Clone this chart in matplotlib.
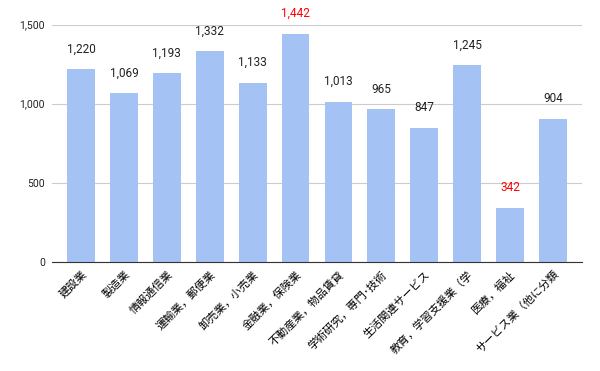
import matplotlib.pyplot as plt
import numpy as np

plt.rcParams['font.family'] = ['Roboto', 'Noto Sans CJK JP', 'DejaVu Sans']

# datos
categorias = ['建設業', '製造業', '情報通信業', '運輸業，郵便業', '卸売業，小売業',
              '金融業，保険業', '不動産業，物品賃貸', '学術研究，専門･技術',
              '生活関連サービス', '教育，学習支援業（学', '医療，福祉', 'サービス業（他に分類']
valores = [1220, 1069, 1193, 1332, 1133, 1442, 1013, 965, 847, 1245, 342, 904]
destacados = [5, 10]  # etiquetas en rojo

fig = plt.figure(figsize=(6, 3.71), dpi=100)
ax = fig.add_axes([52 / 600, 1 - 262 / 371, 530 / 600, (262 - 24.5) / 371])

x = np.arange(len(valores))
ax.bar(x, valores, width=0.65, color='#a4c2f4', zorder=2)

for i, v in enumerate(valores):
    color = '#ff0000' if i in destacados else '#222222'
    ax.text(i, v + 85, f'{v:,}', ha='center', va='bottom', fontsize=8.5,
            color=color, clip_on=False)

ax.set_xlim(-0.68, len(valores) - 0.32)
ax.set_ylim(0, 1500)
ax.set_yticks([0, 500, 1000, 1500])
ax.set_yticklabels(['0', '500', '1,000', '1,500'], fontsize=7.5, color='#222222')
ax.set_xticks(x)
ax.set_xticklabels(categorias, rotation=45, ha='right', rotation_mode='anchor',
                   fontsize=8, family=['Noto Sans CJK JP', 'DejaVu Sans'])
ax.tick_params(length=0, pad=5)
ax.grid(axis='y', color='#cccccc', linewidth=0.8, zorder=0)
for s in ['top', 'right', 'left']:
    ax.spines[s].set_visible(False)
ax.spines['bottom'].set_color('#333333')
ax.spines['bottom'].set_zorder(3)

fig.savefig('out.png', dpi=100)
